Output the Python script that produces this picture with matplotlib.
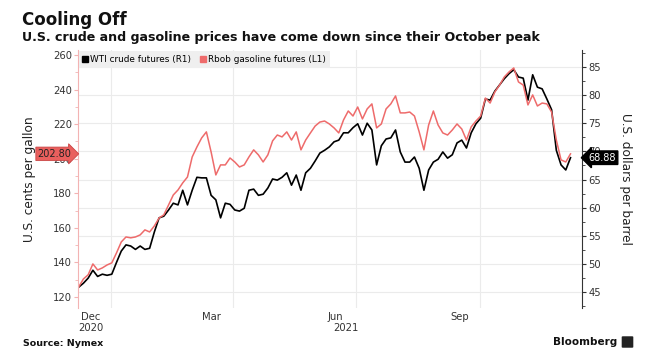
import matplotlib
matplotlib.use("Agg")
import matplotlib.pyplot as plt
from matplotlib.lines import Line2D
from matplotlib.patches import FancyBboxPatch
import pandas as pd

# evenly spaced from early Dec 2020 to early Dec 2021
dates = pd.date_range("2020-12-08", "2021-12-07", periods=105)

rbob = [125.8, 130.4, 132.8, 139.1, 135.6, 136.8, 138.5, 139.7, 145.5, 151.8,
        154.7, 154.2, 154.7, 155.9, 158.8, 157.6, 161.1, 165.7, 167.5, 173.2,
        179.0, 181.9, 186.0, 189.4, 201.0, 206.8, 212.0, 215.5, 203.9, 190.6,
        196.4, 196.4, 200.4, 198.1, 195.2, 196.4, 201.0, 205.1, 202.2, 198.1,
        202.2, 210.3, 213.7, 212.6, 215.5, 210.8, 215.5, 205.1, 210.8, 214.9,
        218.9, 221.2, 221.8, 220.1, 217.8, 214.9, 222.4, 227.6, 224.7, 229.9,
        223.0, 228.8, 231.7, 217.8, 220.1, 228.8, 231.7, 236.3, 226.5, 226.5,
        227.0, 224.7, 215.5, 205.1, 219.5, 227.6, 219.5, 214.9, 213.7, 216.6,
        220.1, 217.2, 210.8, 218.4, 221.8, 224.7, 235.1, 232.2, 238.6, 242.6,
        247.3, 250.2, 252.5, 244.4, 242.6, 231.1, 236.9, 230.5, 232.2, 231.7,
        227.0, 210.8, 199.3, 198.1, 202.8]

wti = [45.9, 46.6, 47.5, 48.9, 47.8, 48.2, 48.0, 48.2, 50.3, 52.3,
       53.4, 53.2, 52.6, 53.2, 52.6, 52.8, 55.7, 58.2, 58.5, 59.6,
       60.8, 60.5, 63.1, 60.5, 63.1, 65.4, 65.3, 65.3, 62.2, 61.4,
       58.2, 60.8, 60.6, 59.6, 59.4, 59.9, 63.1, 63.3, 62.2, 62.4,
       63.5, 65.1, 64.9, 65.4, 66.2, 64.0, 65.8, 63.1, 66.2, 67.0,
       68.3, 69.7, 70.2, 70.8, 71.7, 72.0, 73.3, 73.3, 74.2, 74.9,
       72.9, 75.0, 73.8, 67.6, 71.0, 72.2, 72.4, 73.8, 69.9, 68.1,
       68.1, 69.0, 67.0, 63.1, 66.7, 68.1, 68.6, 69.9, 68.8, 69.4,
       71.5, 72.0, 70.6, 73.3, 74.9, 75.9, 79.3, 79.1, 80.7, 81.8,
       82.9, 83.8, 84.5, 83.2, 83.0, 79.1, 83.6, 81.4, 81.1, 79.3,
       77.4, 70.2, 67.6, 66.7, 68.88]

# month labels sit mid-month, grid lines at the month boundaries
label_dates = pd.to_datetime(["2020-12-17", "2021-03-16", "2021-06-16", "2021-09-16"])
month_labels = ["Dec", "Mar", "Jun", "Sep"]
grid_dates = pd.to_datetime(["2021-01-01", "2021-04-01", "2021-07-01", "2021-10-01"])
year_labels = {"2020": "2020-12-17", "2021": "2021-06-24"}

red = "#ee6b6b"
pink = "#f3b3b3"
grid = "#ebebeb"
txt = "#333333"

fig = plt.figure(figsize=(6.54, 3.62), dpi=100)
ax = fig.add_axes([0.1193, 0.1492, 0.7706, 0.7127])   # WTI, right axis
ax2 = ax.twinx()                                       # Rbob, left axis

ax.plot(dates, wti, color="black", lw=1.2)
ax2.plot(dates, rbob, color=red, lw=1.1)

ax.set_xlim(pd.Timestamp("2020-12-07 12:00"), pd.Timestamp("2021-12-15 12:00"))
ax.set_ylim(42.2, 88.0)
ax2.set_ylim(113.6, 262.9)

# right axis (WTI)
ax.yaxis.tick_right()
ax.yaxis.set_label_position("right")
ax.set_yticks(range(45, 90, 5))
ax.set_yticks([42.5 + 2.5 * i for i in range(19)], minor=True)
ax.tick_params(axis="y", which="both", direction="out", color=txt,
               labelsize=7.2, labelcolor=txt, pad=1.5)
ax.tick_params(axis="y", which="major", length=3)
ax.tick_params(axis="y", which="minor", length=2)
ax.yaxis.grid(True, color=grid, lw=0.8)
ax.set_ylabel("U.S. dollars per barrel", rotation=270, labelpad=22,
              fontsize=8.7, color="#222222")

# left axis (Rbob)
ax2.yaxis.tick_left()
ax2.yaxis.set_label_position("left")
ax2.set_yticks(range(120, 261, 20))
ax2.set_yticks(range(120, 261, 10), minor=True)
ax2.tick_params(axis="y", which="both", direction="out", color=pink,
                labelsize=7.2, labelcolor=txt, pad=1.5)
ax2.tick_params(axis="y", which="major", length=3)
ax2.tick_params(axis="y", which="minor", length=2)
ax2.set_ylabel("U.S. cents per gallon", labelpad=12, fontsize=8.7, color="#222222")

# x axis
ax.set_xticks(label_dates)
ax.set_xticklabels(month_labels)
ax.set_xticks(grid_dates, minor=True)
ax.xaxis.grid(True, which="minor", color=grid, lw=0.8)
ax.tick_params(axis="x", which="both", length=0, labelsize=7.2, labelcolor=txt, pad=3)
for yr, d in year_labels.items():
    ax.text(pd.Timestamp(d), -0.058, yr, transform=ax.get_xaxis_transform(),
            ha="center", va="top", fontsize=7.2, color=txt)

for a in (ax, ax2):
    for s in ("top", "bottom", "left", "right"):
        a.spines[s].set_visible(False)
ax.spines["right"].set_visible(True)
ax.spines["right"].set_color(txt)
ax2.spines["left"].set_visible(True)
ax2.spines["left"].set_color(pink)
ax.set_zorder(1)
ax.patch.set_visible(False)
ax2.set_zorder(2)

# last value tags
ax2.text(-0.013, rbob[-1], f"{rbob[-1]:.2f}", transform=ax2.get_yaxis_transform(),
         ha="right", va="center", fontsize=7, color="#222222",
         bbox=dict(boxstyle="rarrow,pad=0.18", fc="#e95f5d", ec="#c94545", lw=0.6))
ax.text(1.013, wti[-1], f"{wti[-1]:.2f}", transform=ax.get_yaxis_transform(),
        ha="left", va="center", fontsize=7, color="white",
        bbox=dict(boxstyle="larrow,pad=0.18", fc="black", ec="black"), zorder=5)

handles = [Line2D([], [], ls="none", marker="s", ms=4.5, color="black"),
           Line2D([], [], ls="none", marker="s", ms=4.5, color=red)]
ax2.legend(handles, ["WTI crude futures (R1)", "Rbob gasoline futures (L1)"],
           loc="upper left", bbox_to_anchor=(0.0, 1.0), ncol=2, frameon=True,
           fancybox=False, facecolor="#efefef", edgecolor="none", framealpha=1,
           handlelength=0.5, handletextpad=0.35, columnspacing=1.0,
           borderaxespad=0.1, borderpad=0.45, prop={"size": 6.4})

fig.text(0.0336, 1 - 25 / 362, "Cooling Off", fontsize=12, fontweight="bold",
         color="#111111", va="baseline")
fig.text(0.0336, 1 - 41 / 362,
         "U.S. crude and gasoline prices have come down since their October peak",
         fontsize=9.1, fontweight="bold", color="#111111", va="baseline")
fig.text(0.035, 1 - 343 / 362, "Source: Nymex", fontsize=6.8, fontweight="bold",
         color="#111111", va="center")
fig.text(617 / 654, 1 - 342 / 362, "Bloomberg", fontsize=7.5, fontweight="bold",
         color="#111111", ha="right", va="center")
fig.patches.append(FancyBboxPatch((623 / 654, 1 - 347 / 362), 9 / 654, 10 / 362,
                                  boxstyle="round,pad=0.002", fc="#222222", ec="none",
                                  transform=fig.transFigure, figure=fig))

fig.savefig("out.png", dpi=100)
